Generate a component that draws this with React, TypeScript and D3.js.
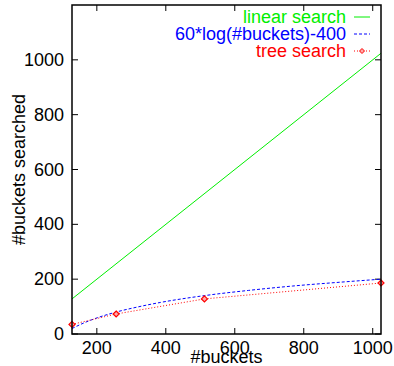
import React from "react";
import * as d3 from "d3";

// linear search: one bucket per bucket
const linearX = [128, 1024];
const linearY = [128, 1024];

// 60*log(#buckets)-400 curve
const logX = [128, 160, 192, 256, 320, 384, 512, 640, 768, 896, 1024];
const logY = [20, 39, 55, 80, 99, 115, 140, 159, 175, 188, 200];

// tree search measurements
const treeX = [128, 256, 512, 1024];
const treeY = [35, 73, 128, 186];

const xTicks = [200, 400, 600, 800, 1000];
const yTicks = [0, 200, 400, 600, 800, 1000];

const W = 394;
const H = 366;
const m = { left: 72, right: 13, top: 5, bottom: 32 };

const App = () => {
  const x = d3.scaleLinear().domain([128, 1024]).range([m.left, W - m.right]);
  const y = d3.scaleLinear().domain([0, 1200]).range([H - m.bottom, m.top]);
  const font = "'Liberation Sans', Arial, sans-serif";
  const fs = 18;

  const line = d3.line<[number, number]>().x(d => x(d[0])).y(d => y(d[1]));
  const curve = d3.line<[number, number]>().x(d => x(d[0])).y(d => y(d[1])).curve(d3.curveMonotoneX);

  const linPts = linearX.map((v, i) => [v, linearY[i]] as [number, number]);
  const logPts = logX.map((v, i) => [v, logY[i]] as [number, number]);
  const treePts = treeX.map((v, i) => [v, treeY[i]] as [number, number]);

  const x0 = m.left, x1 = W - m.right, y0 = H - m.bottom, y1 = m.top;
  const diamond = (cx: number, cy: number, s = 3) =>
    `M${cx},${cy - s}L${cx + s},${cy}L${cx},${cy + s}L${cx - s},${cy}Z`;

  // legend
  const legend = [
    { label: "linear search", color: "#00ee00", dash: "none", marker: false },
    { label: "60*log(#buckets)-400", color: "#0000ff", dash: "3,2", marker: false },
    { label: "tree search", color: "#ff0000", dash: "1,2", marker: true },
  ];

  return (
    <svg width={W} height={H} style={{ position: "absolute", left: 0, top: 0, background: "#fff" }} fontFamily={font}>
      <defs>
        <clipPath id="plot">
          <rect x={x0} y={y1} width={x1 - x0} height={y0 - y1} />
        </clipPath>
      </defs>

      {/* ticks, inward on all four sides */}
      {xTicks.map(t => (
        <g key={"x" + t}>
          <line x1={x(t)} x2={x(t)} y1={y0} y2={y0 - 6} stroke="#000" />
          <line x1={x(t)} x2={x(t)} y1={y1} y2={y1 + 6} stroke="#000" />
          <text x={x(t)} y={y0 + 20} fontSize={fs} textAnchor="middle">{t}</text>
        </g>
      ))}
      {yTicks.map(t => (
        <g key={"y" + t}>
          <line x1={x0} x2={x0 + 6} y1={y(t)} y2={y(t)} stroke="#000" />
          <line x1={x1} x2={x1 - 6} y1={y(t)} y2={y(t)} stroke="#000" />
          <text x={x0 - 8} y={y(t) + 6} fontSize={fs} textAnchor="end">{t}</text>
        </g>
      ))}

      <g clipPath="url(#plot)">
        <path d={line(linPts) || ""} fill="none" stroke="#00ee00" strokeWidth={1} />
        <path d={curve(logPts) || ""} fill="none" stroke="#0000ff" strokeWidth={1} strokeDasharray="3,2" />
        <path d={line(treePts) || ""} fill="none" stroke="#ff0000" strokeWidth={1} strokeDasharray="1,2" />
      </g>
      {treePts.map((p, i) => (
        <path key={i} d={diamond(x(p[0]), y(p[1]))} fill="#ffaaaa" stroke="#ff0000" strokeWidth={1.2} />
      ))}

      {legend.map((l, i) => {
        const ly = 17 + i * 17;
        return (
          <g key={l.label}>
            <text x={346} y={ly + 6} fontSize={fs} textAnchor="end" fill={l.color}>{l.label}</text>
            <line x1={354} x2={370} y1={ly} y2={ly} stroke={l.color} strokeDasharray={l.dash} />
            {l.marker && <path d={diamond(362, ly, 2.5)} fill="#ffaaaa" stroke="#ff0000" />}
          </g>
        );
      })}

      <rect x={x0} y={y1} width={x1 - x0} height={y0 - y1} fill="none" stroke="#000" strokeWidth={1.5} />

      <text x={(x0 + x1) / 2} y={H - 3} fontSize={fs} textAnchor="middle">#buckets</text>
      <text transform={`translate(25,${(y0 + y1) / 2}) rotate(-90)`} fontSize={fs} textAnchor="middle">#buckets searched</text>
    </svg>
  );
};

export default App;
